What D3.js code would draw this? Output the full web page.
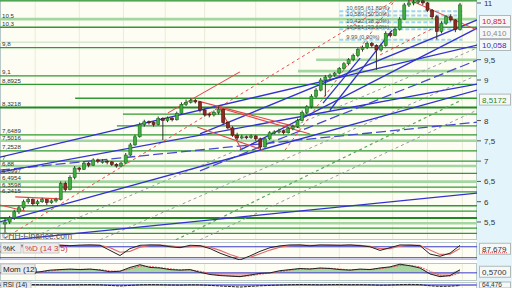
<!DOCTYPE html>
<html>
<head>
<meta charset="utf-8">
<script src="https://cdn.jsdelivr.net/npm/d3@7"></script>
<style>
  body { margin: 0; background: #fff; }
  svg { display: block; font-family: "Liberation Sans", Arial, sans-serif; }
</style>
</head>
<body>
<div id="chart"></div>
<script>
// daily candles [open, high, low, close]
const ohlc = [
  [5.45,5.6,5.25,5.5],[5.5,5.65,5.45,5.6],[5.6,5.8,5.55,5.75],[5.75,5.9,5.7,5.85],[5.85,6.05,5.8,6.0],
  [6.0,6.1,5.95,6.05],[6.05,6.08,5.9,5.95],[5.95,6.05,5.9,6.0],[6.0,6.1,5.97,6.05],[6.05,6.07,5.92,5.98],
  [5.98,6.06,5.95,6.02],[6.02,6.1,5.98,6.05],[6.05,6.5,6.03,6.45],[6.45,6.5,6.25,6.3],[6.3,6.65,6.28,6.6],
  [6.6,6.88,6.55,6.83],[6.83,6.86,6.74,6.8],[6.8,7.0,6.78,6.95],[6.95,6.98,6.85,6.9],[6.9,7.07,6.88,7.03],
  [7.03,7.06,6.95,7.0],[6.97,7.05,6.94,7.0],[7.0,7.03,6.92,6.98],[6.98,7.0,6.88,6.92],[6.92,6.95,6.84,6.88],
  [6.88,6.98,6.85,6.95],[6.95,7.2,6.93,7.15],[7.15,7.45,7.12,7.4],[7.4,7.65,7.38,7.6],[7.6,7.95,7.58,7.9],
  [7.9,8.02,7.85,7.97],[7.97,8.0,7.9,7.95],[7.95,7.98,7.85,7.9],[7.9,8.1,7.88,8.05],[8.05,8.08,7.52,8.0],
  [8.0,8.1,7.96,8.06],[8.06,8.08,7.98,8.02],[8.02,8.22,8.0,8.18],[8.18,8.45,8.15,8.4],[8.4,8.52,8.36,8.45],
  [8.45,8.55,8.42,8.5],[8.5,8.53,8.42,8.46],[8.46,8.48,8.2,8.26],[8.26,8.3,8.1,8.14],[8.16,8.2,8.08,8.14],
  [8.14,8.25,8.1,8.2],[8.2,8.35,8.15,8.28],[8.28,8.3,7.9,7.95],[7.95,7.98,7.78,7.82],[7.82,7.86,7.6,7.64],
  [7.64,7.7,7.52,7.57],[7.57,7.65,7.54,7.6],[7.6,7.63,7.54,7.58],[7.58,7.66,7.55,7.62],[7.62,7.64,7.5,7.55],
  [7.55,7.58,7.28,7.35],[7.35,7.58,7.33,7.55],[7.55,7.74,7.52,7.7],[7.7,7.76,7.66,7.72],[7.72,7.8,7.68,7.75],
  [7.75,7.78,7.66,7.7],[7.7,7.84,7.68,7.8],[7.8,7.9,7.76,7.85],[7.85,8.05,7.82,8.0],[8.0,8.25,7.98,8.2],
  [8.2,8.38,8.16,8.34],[8.34,8.65,8.3,8.6],[8.6,8.8,8.56,8.75],[8.75,9.05,8.72,9.0],[9.0,9.12,8.6,9.07],
  [9.07,9.16,9.02,9.12],[9.12,9.2,9.08,9.17],[9.17,9.32,9.14,9.28],[9.28,9.44,9.25,9.4],[9.4,9.54,9.36,9.5],
  [9.5,9.65,9.46,9.6],[9.6,9.8,9.56,9.75],[9.75,9.85,9.7,9.8],[9.8,9.95,9.76,9.9],[9.9,9.94,9.8,9.85],
  [9.85,9.88,9.25,9.74],[9.74,9.9,9.7,9.85],[9.85,10.2,9.82,10.15],[10.15,10.2,10.05,10.1],[10.1,10.3,10.08,10.25],
  [10.25,10.55,10.22,10.5],[10.5,10.9,10.48,10.85],[10.85,10.98,10.8,10.9],[10.9,11.0,10.84,10.92],[10.92,11.02,10.88,10.95],
  [10.95,10.98,10.85,10.9],[10.9,10.92,10.68,10.72],[10.72,10.75,10.5,10.56],[10.56,10.6,10.0,10.2],[10.2,10.45,10.15,10.4],
  [10.4,10.6,10.36,10.56],[10.56,10.62,10.44,10.48],[10.48,10.5,10.18,10.25],[10.25,10.9,10.22,10.851]
]

// horizontal support / resistance levels with their left labels
const levelValues = [10.5, 10.3, 9.8, 9.1, 8.8925, 8.3218, 7.6489, 7.5016, 7.2528, 7, 6.88, 6.6997, 6.4954, 6.3598, 6.2415]
const levelLabels = ["10,5", "10,3", "9,8", "9,1", "8,8925", "8,3218", "7,6489", "7,5016", "7,2528", "7", "6,88", "6,6997", "6,4954", "6,3598", "6,2415"]
const levelKinds  = ["light", "dark", "dark", "dark", "dark", "heavy", "dark", "light", "dark", "dark", "light", "dark", "light", "dark", "dark"]
// unlabeled levels
const extraLevels = [10.95, 9.93, 5.9, 5.77, 5.6, 5.47, 5.35, 5.22]
const extraKinds  = ["dark", "pale", "dark", "dark", "heavy", "light", "dark", "dark"]
// levels that start part-way through the chart [startIndex, value]
const partialLevels = [[67, 9.5], [63.1, 9.22], [15.1, 8.55], [25.4, 8.16], [24.1, 7.87]]
const partialKinds  = ["light", "light", "dark", "dark", "dark"]

// fibonacci retracement
const fibValues = [10.695, 10.589, 10.422, 10.251, 9.99]
const fibLabels = ["10,695 (61,80%)", "10,589 (50,00%)", "10,422 (38,20%)", "10,251 (23,60%)", "9,99 (0,00%)"]
const fibRange = [72, 98.5]

// trend lines [i1, p1, i2, p2]
const blueLines = [
  [-1.1, 7.10, 101.7, 9.86], [-1.1, 5.50, 101.7, 8.75], [-1.1, 5.03, 101.7, 6.21],
  [50.6, 7.27, 101.7, 10.28], [-1.1, 6.73, 101.7, 8.90], [68.5, 8.43, 76.5, 9.54],
  [70, 8.26, 83.4, 10.23], [42, 7.67, 101.7, 10.48]
]
const blueDashLines = [[-1.1, 6.78, 101.7, 7.96], [42, 6.76, 101.7, 9.49]]
const grayDashLines = [[5.4, 5.10, 101.7, 9.79], [20.5, 5.06, 101.7, 9.12], [42, 5.06, 101.7, 8.26]]
const greenDashLines = [[36.8, 5.06, 98.4, 8.51]]
const redDashLines = [[-1.1, 5.03, 84, 10.97], [60.3, 7.27, 84, 10.97], [80.8, 9.62, 93.7, 10.36]]
const redLines = [
  [35.1, 8.19, 50.6, 9.20], [41.6, 8.48, 63.5, 7.82], [46.3, 8.31, 65.7, 7.67],
  [46.3, 8.31, 51.0, 7.27], [41.4, 7.84, 55.6, 7.27], [2.2, 6.12, 11.8, 6.07],
  [-1.1, 5.92, 4.3, 5.77], [87.2, 10.97, 101.7, 10.23]
]

// month grid (candle index)
const gridIdx = [6.5, 16, 25.5, 34.5, 43, 54, 63.5, 72, 83.5, 91, 98.5]

const priceTicks = [5.5, 6, 6.5, 7, 7.5, 8, 9, 9.5, 11]
// values shown in boxes at right
const tagValues = [10.851, 10.410, 10.058, 8.5172]
const tagColors = ["#d02020", "#888888", "#3030c0", "#2a8a2a"]

// indicators, sampled every 10px
const stochK = [50,80,88,90,89,90,88,86,89,90,88,60,32,70,88,90,89,80,75,88,86,70,45,25,8,30,55,75,85,90,90,85,90,89,88,90,86,80,60,75,90,89,86,40,28,45,87.679]
const stochD = [55,70,84,88,89,89,89,87,87,89,88,75,50,55,78,88,89,85,78,80,85,78,60,38,20,22,42,62,78,86,89,88,88,89,88,89,88,82,70,70,84,89,88,62,38,40,70]
const mom = [0,0.05,0.1,0.05,0.2,0.5,0.6,0.7,0.6,0.7,0.5,0.2,0.3,1.0,1.5,1.0,0.9,0.6,0.5,0.6,0.1,-0.3,-0.5,-0.6,-0.7,-0.4,-0.1,0,0.4,0.6,0.8,0.7,0.9,0.8,0.6,0.5,0.7,0.6,0.9,1.1,1.6,1.3,0.9,-0.2,-0.7,-0.5,0.57]
const momSignal = [0,0.02,0.07,0.08,0.12,0.35,0.55,0.62,0.65,0.65,0.6,0.35,0.3,0.7,1.25,1.2,0.95,0.75,0.55,0.55,0.3,-0.1,-0.4,-0.55,-0.65,-0.55,-0.25,-0.05,0.2,0.5,0.7,0.75,0.8,0.85,0.7,0.55,0.6,0.65,0.75,1.0,1.35,1.4,1.1,0.3,-0.45,-0.6,0]
const rsi = [65,70,72,74,73,72,70,71,73,74,72,66,60,66,72,74,73,70,69,72,71,66,60,55,50,56,62,66,70,73,75,74,72,74,75,73,74,72,68,70,74,76,74,62,56,58,64.476]

const W = 512, H = 288
const plotR = 477
const mainB = 240
const fmt = v => String(v).replace(".", ",")

// push label positions apart (top to bottom) so they do not overlap
const spread = (ys, gap) => {
  let prev = -Infinity
  return ys.map(v => { prev = Math.max(v, prev + gap); return prev })
}

const svg = d3.select("#chart").append("svg")
  .attr("width", W).attr("height", H)

// right column background
svg.append("rect").attr("x", plotR).attr("y", 0).attr("width", W - plotR).attr("height", H).attr("fill", "#e3f5fb")

const x = d3.scaleLinear().domain([0, ohlc.length - 1]).range([5, 460])
const y = d3.scaleLinear().domain([5.056, 10.972]).range([mainB, 0])
const xi = d3.scaleLinear().domain([0, stochK.length - 1]).range([0, 460])

const defs = svg.append("defs")
const addClip = (id, y0, y1) => {
  defs.append("clipPath").attr("id", id)
    .append("rect").attr("x", 0).attr("y", y0).attr("width", plotR).attr("height", y1 - y0)
}
addClip("clipMain", 0, mainB)
addClip("clipSto", 242, 260)
addClip("clipMom", 263, 281)
addClip("clipRsi", 282, 300)

// panels
const panels = [[0, mainB], [242, 260], [263, 281], [282, 300]]
panels.forEach(p => {
  svg.append("rect").attr("x", 0.5).attr("y", p[0] + 0.5).attr("width", plotR - 1).attr("height", p[1] - p[0] - 1)
    .attr("fill", "#fdfdf4").attr("stroke", "#b8c8c8")
})

// vertical grid
panels.forEach(p => {
  svg.append("g").selectAll("line").data(gridIdx).join("line")
    .attr("x1", d => x(d)).attr("x2", d => x(d))
    .attr("y1", p[0] + 1).attr("y2", p[1] - 1)
    .attr("stroke", "#ebebd8").attr("stroke-width", 1)
})

const main = svg.append("g").attr("clip-path", "url(#clipMain)")

const levelStyle = {
  dark: {c: "#2f9a2f", w: 1.3},
  heavy: {c: "#1f8a1f", w: 2},
  light: {c: "#a3d7a0", w: 2.6},
  pale: {c: "#d5e8d0", w: 1.5}
}
const drawLevel = (v, kind, i0) => {
  const s = levelStyle[kind]
  main.append("line")
    .attr("x1", i0 == null ? 0 : x(i0)).attr("x2", plotR)
    .attr("y1", y(v)).attr("y2", y(v))
    .attr("stroke", s.c).attr("stroke-width", s.w)
}
extraLevels.forEach((v, i) => drawLevel(v, extraKinds[i]))
partialLevels.forEach((d, i) => drawLevel(d[1], partialKinds[i], d[0]))
levelValues.forEach((v, i) => drawLevel(v, levelKinds[i]))

// fibonacci
fibValues.forEach((v, i) => {
  main.append("line")
    .attr("x1", x(fibRange[0])).attr("x2", x(fibRange[1]))
    .attr("y1", y(v)).attr("y2", y(v))
    .attr("stroke", "#9cd6f2").attr("stroke-width", 2).attr("stroke-dasharray", "4,2")
})

const drawLines = (data, color, width, dash) => {
  main.append("g").selectAll("line").data(data).join("line")
    .attr("x1", d => x(d[0])).attr("y1", d => y(d[1]))
    .attr("x2", d => x(d[2])).attr("y2", d => y(d[3]))
    .attr("stroke", color).attr("stroke-width", width)
    .attr("stroke-dasharray", dash)
}
drawLines(grayDashLines, "#9a9aa8", 1, "3,3")
drawLines(greenDashLines, "#5aa55a", 1.2, "3,3")
drawLines(blueDashLines, "#4a4ad0", 1.3, "10,4")
drawLines(redDashLines, "#e05050", 1, "3,3")
drawLines(blueLines, "#3232d0", 1.3, null)
drawLines(redLines, "#e04848", 1.1, null)

// candles
const candles = main.append("g").selectAll("g").data(ohlc).join("g")
candles.append("line")
  .attr("x1", (d, i) => x(i)).attr("x2", (d, i) => x(i))
  .attr("y1", d => y(d[1])).attr("y2", d => y(d[2]))
  .attr("stroke", "#333").attr("stroke-width", 1)
candles.append("rect")
  .attr("x", (d, i) => x(i) - 1.5).attr("width", 3)
  .attr("y", d => y(Math.max(d[0], d[3])))
  .attr("height", d => Math.max(1, Math.abs(y(d[0]) - y(d[3]))))
  .attr("fill", d => d[3] >= d[0] ? "#3fae3f" : "#8e2a22")
  .attr("stroke", d => d[3] >= d[0] ? "#1d6a1d" : "#4a1410")
  .attr("stroke-width", 0.6)

// left level labels
const levelLabelY = spread(levelValues.map(v => y(v) - 1.5), 6.6)
svg.append("g").selectAll("text").data(levelValues).join("text")
  .attr("x", 2).attr("y", (d, i) => levelLabelY[i])
  .attr("font-size", 6.2).attr("fill", "#333")
  .text((d, i) => levelLabels[i])

// fib labels
const fibLabelY = spread(fibValues.map(v => y(v) - 1.2), 6.4)
svg.append("g").selectAll("text").data(fibValues).join("text")
  .attr("x", x(fibRange[0]) + 7).attr("y", (d, i) => fibLabelY[i])
  .attr("font-size", 5.8).attr("fill", "#555")
  .text((d, i) => fibLabels[i])

svg.append("text").attr("x", 2).attr("y", 238.5)
  .attr("font-size", 8.5).attr("fill", "#555").text("©HH-Finance.com")

// right price axis
const axis = svg.append("g")
priceTicks.forEach(t => {
  const ty = Math.max(3, y(t))
  axis.append("line").attr("x1", plotR).attr("x2", plotR + 4).attr("y1", ty).attr("y2", ty).attr("stroke", "#555")
  axis.append("text").attr("x", plotR + 7).attr("y", ty + 3).attr("font-size", 8).attr("fill", "#333").text(fmt(t))
})

const tagBox = (cy, label, color, fs) => {
  const g = svg.append("g")
  g.append("rect").attr("x", plotR + 2.5).attr("y", cy - 5.5).attr("width", 31).attr("height", 11)
    .attr("fill", "#f6f8f8").attr("stroke", "#b0b8b8")
  g.append("text").attr("x", plotR + 5).attr("y", cy + 3).attr("font-size", fs || 8).attr("fill", color).text(label)
}
// place tags, pushing them apart so they do not overlap
let lastY = 9
tagValues.forEach((v, i) => {
  let cy = Math.max(y(v), lastY + 12)
  lastY = cy
  tagBox(cy, fmt(v.toFixed(i === 3 ? 4 : 3)), tagColors[i])
})

// stochastic
const ySto = d3.scaleLinear().domain([0, 100]).range([261.4, 243.1])
const sto = svg.append("g").attr("clip-path", "url(#clipSto)")
;[20, 80].forEach(v => sto.append("line").attr("x1", 0).attr("x2", plotR).attr("y1", ySto(v)).attr("y2", ySto(v)).attr("stroke", "#3a3ac8"))
sto.append("path").datum(stochD).attr("fill", "none").attr("stroke", "#e07070").attr("stroke-width", 1.2)
  .attr("d", d3.line().x((d, i) => xi(i)).y(d => ySto(d)))
sto.append("path").datum(stochK).attr("fill", "none").attr("stroke", "#222").attr("stroke-width", 1)
  .attr("d", d3.line().x((d, i) => xi(i)).y(d => ySto(d)))

const labelBox = (bx, by, w, h, text, color, fs) => {
  svg.append("rect").attr("x", bx).attr("y", by).attr("width", w).attr("height", h)
    .attr("fill", "#ececec").attr("stroke", "#c8c8c8")
  svg.append("text").attr("x", bx + 2).attr("y", by + h - 2).attr("font-size", fs).attr("fill", color).text(text)
}
labelBox(1, 243, 20, 10, "%K", "#222", 8)
labelBox(23, 243, 36, 10, "%D (14 3 5)", "#d04040", 8)
tagBox(ySto(80) + 2, "87,679", "#333")
svg.append("line").attr("x1", plotR + 5).attr("x2", plotR + 31).attr("y1", ySto(80) + 6).attr("y2", ySto(80) + 6)
  .attr("stroke", "#e05050").attr("stroke-dasharray", "1,1")

// momentum
const yMom = d3.scaleLinear().domain([-1.5, 2]).range([281, 262])
const mg = svg.append("g").attr("clip-path", "url(#clipMom)")
mg.append("path").datum(mom).attr("fill", "#a8d6a0")
  .attr("d", d3.area().x((d, i) => xi(i)).y0(yMom(0)).y1(d => yMom(Math.max(0, d))))
mg.append("path").datum(mom).attr("fill", "#e8b4b4")
  .attr("d", d3.area().x((d, i) => xi(i)).y0(yMom(0)).y1(d => yMom(Math.min(0, d))))
mg.append("line").attr("x1", 0).attr("x2", plotR).attr("y1", yMom(0)).attr("y2", yMom(0)).attr("stroke", "#3a3ac8")
mg.append("path").datum(momSignal).attr("fill", "none").attr("stroke", "#e06060").attr("stroke-width", 1).attr("stroke-dasharray", "2,1")
  .attr("d", d3.line().x((d, i) => xi(i)).y(d => yMom(d)))
mg.append("path").datum(mom).attr("fill", "none").attr("stroke", "#222").attr("stroke-width", 1)
  .attr("d", d3.line().x((d, i) => xi(i)).y(d => yMom(d)))
labelBox(1, 264, 34, 10, "Mom (12)", "#222", 8)
tagBox(yMom(0.57) + 2, "0,5700", "#333")

// rsi
const yRsi = d3.scaleLinear().domain([0, 100]).range([292, 282])
const rg = svg.append("g").attr("clip-path", "url(#clipRsi)")
rg.append("line").attr("x1", 0).attr("x2", plotR).attr("y1", yRsi(70)).attr("y2", yRsi(70)).attr("stroke", "#8a8ae0").attr("stroke-width", 2)
rg.append("path").datum(rsi).attr("fill", "none").attr("stroke", "#222").attr("stroke-width", 1).attr("stroke-dasharray", "3,1")
  .attr("d", d3.line().x((d, i) => xi(i)).y(d => yRsi(d)))
labelBox(1, 282, 30, 7, "RSI (14)", "#222", 6.5)
svg.append("rect").attr("x", plotR + 2.5).attr("y", 282).attr("width", 31).attr("height", 6)
  .attr("fill", "#f6f8f8").attr("stroke", "#b0b8b8")
svg.append("text").attr("x", plotR + 5).attr("y", 287.2).attr("font-size", 6.5).attr("fill", "#333").text("64,476")
</script>
</body>
</html>
